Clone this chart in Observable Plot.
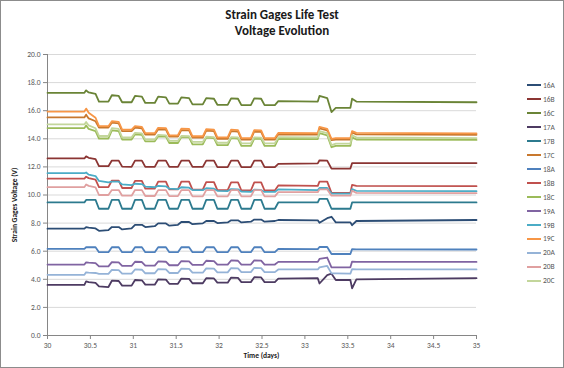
<!DOCTYPE html>
<html>
<head>
<meta charset="utf-8">
<script src="https://cdn.jsdelivr.net/npm/d3@7"></script>
<script src="https://cdn.jsdelivr.net/npm/@observablehq/plot@0.6"></script>
<style>
  html, body { margin: 0; padding: 0; background: #fff; }
  #wrap { position: relative; width: 564px; height: 368px; font-family: Carlito, Lato, "Open Sans", sans-serif; overflow: hidden; }
  #wrap svg { position: absolute; left: 0; top: 0; }
  .border { position: absolute; left: 0; top: 0; width: 564px; height: 368px; box-sizing: border-box; border: 1px solid #8c8c8c; pointer-events: none; }
  .title { position: absolute; left: 0; width: 564px; text-align: center; font-weight: bold; font-size: 13px; line-height: 16px; top: 7px; color: #1a1a1a; }
  .xlab { position: absolute; left: 47px; width: 429px; text-align: center; top: 351px; font-weight: bold; font-size: 7.5px; color: #1a1a1a; }
  .ylab { position: absolute; left: 14px; top: 205px; transform: translate(-50%, -50%) rotate(-90deg); white-space: nowrap; font-weight: bold; font-size: 7.5px; color: #1a1a1a; }
  .leg { position: absolute; left: 527px; height: 10px; font-size: 7.5px; color: #595959; line-height: 10px; white-space: nowrap; }
  .leg span.sw { display: inline-block; width: 14px; height: 2px; vertical-align: middle; margin-right: 2px; position: relative; top: -1px; }
</style>
</head>
<body>
<div id="wrap"></div>
<script>
const titleLines = ["Strain Gages Life Test", "Voltage Evolution"];
const xTitle = "Time (days)";
const yTitle = "Strain Gages Voltage (V)";
const xTicks = [30, 30.5, 31, 31.5, 32, 32.5, 33, 33.5, 34, 34.5, 35];
const yTicks = [0, 2, 4, 6, 8, 10, 12, 14, 16, 18, 20];
const seriesNames = ["16A","16B","16C","17A","17B","17C","18A","18B","18C","19A","19B","19C","20A","20B","20C"];
const seriesColors = ["#2C4D75","#8B3533","#6A8436","#4D3B62","#2C7A8E","#C8782E","#4F81BD","#C0504D","#9BBB59","#8064A2","#4BACC6","#F79646","#95B3D7","#E0A0A0","#C3D69B"];

// time breakpoints (days)
const times = [
  30.00, 30.43, 30.45, 30.48, 30.56, 30.60,
  30.71, 30.75, 30.83, 30.87,
  30.98, 31.02, 31.10, 31.14,
  31.25, 31.29, 31.38, 31.42,
  31.52, 31.56, 31.65, 31.69,
  31.81, 31.85, 31.94, 31.98,
  32.10, 32.14, 32.22, 32.26,
  32.37, 32.41, 32.49, 32.53,
  32.65, 32.69,
  33.15, 33.17, 33.26, 33.31, 33.36, 33.53, 33.55, 33.60, 35.00
];

const s16A = [7.6, 7.6, 7.72, 7.68, 7.62, 7.45,
  7.5, 7.72, 7.72, 7.55,
  7.62, 7.88, 7.88, 7.72,
  7.78, 7.98, 7.98, 7.82,
  7.88, 8.08, 8.08, 7.92,
  7.98, 8.15, 8.15, 8.0,
  8.05, 8.2, 8.2, 8.05,
  8.1, 8.25, 8.25, 8.1,
  8.15, 8.22,
  8.2, 8.02, 8.35, 8.45, 8.05, 8.05, 7.85, 8.15, 8.22];
const s16B = [12.6, 12.6, 12.75, 12.65, 12.55, 12.05,
  12.05, 12.45, 12.45, 12.02,
  12.0, 12.45, 12.45, 12.0,
  12.0, 12.45, 12.45, 12.0,
  12.0, 12.45, 12.45, 12.0,
  12.0, 12.45, 12.45, 11.98,
  11.98, 12.45, 12.45, 11.98,
  11.98, 12.45, 12.45, 11.98,
  11.98, 12.22,
  12.25, 12.47, 12.45, 11.88, 11.88, 11.88, 12.27, 12.27, 12.27];
const s16C = [17.27, 17.27, 17.45, 17.3, 17.2, 16.65,
  16.65, 17.1, 17.05, 16.6,
  16.6, 17.05, 17.0, 16.55,
  16.55, 17.0, 16.95, 16.5,
  16.5, 16.95, 16.9, 16.45,
  16.45, 16.9, 16.85, 16.42,
  16.42, 16.88, 16.85, 16.4,
  16.4, 16.88, 16.85, 16.4,
  16.4, 16.68,
  16.65, 17.05, 16.9, 15.9, 16.2, 16.2, 16.85, 16.65, 16.6];
const s17A = [3.6, 3.6, 3.85, 3.8, 3.75, 3.5,
  3.45, 3.9, 3.88, 3.55,
  3.55, 3.95, 3.93, 3.62,
  3.62, 4.0, 3.98, 3.68,
  3.68, 4.05, 4.03, 3.72,
  3.72, 4.08, 4.06, 3.76,
  3.76, 4.12, 4.1, 3.8,
  3.8, 4.15, 4.13, 3.8,
  3.8, 4.05,
  4.08, 3.7, 4.3, 4.4, 3.95, 3.95, 3.35, 4.0, 4.08];
const s17B = [9.47, 9.47, 9.65, 9.65, 9.65, 9.02,
  9.02, 9.65, 9.65, 9.02,
  9.02, 9.65, 9.65, 9.02,
  9.02, 9.65, 9.65, 9.02,
  9.02, 9.65, 9.65, 9.02,
  9.02, 9.65, 9.65, 9.02,
  9.02, 9.65, 9.65, 9.02,
  9.02, 9.65, 9.65, 9.02,
  9.02, 9.47,
  9.47, 9.73, 9.73, 9.02, 9.02, 9.02, 9.47, 9.47, 9.47];
const s17C = [15.52, 15.52, 15.72, 15.45, 15.25, 14.8,
  14.8, 15.15, 15.1, 14.55,
  14.55, 14.8, 14.75, 14.3,
  14.3, 14.68, 14.65, 14.15,
  14.15, 14.62, 14.6, 14.08,
  14.08, 14.58, 14.55, 14.0,
  14.0, 14.55, 14.52, 13.95,
  13.95, 14.52, 14.5, 13.95,
  13.95, 14.32,
  14.3, 14.75, 14.6, 13.9, 13.95, 13.95, 14.45, 14.32, 14.28];
const s18A = [6.17, 6.17, 6.28, 6.28, 6.28, 5.93,
  5.93, 6.28, 6.28, 5.93,
  5.93, 6.28, 6.28, 5.93,
  5.93, 6.28, 6.28, 5.93,
  5.93, 6.28, 6.28, 5.93,
  5.93, 6.28, 6.28, 5.93,
  5.93, 6.28, 6.28, 5.93,
  5.93, 6.28, 6.28, 5.93,
  5.93, 6.17,
  6.15, 6.3, 6.3, 5.8, 5.8, 5.8, 6.15, 6.13, 6.12];
const s18B = [11.17, 11.17, 11.3, 11.2, 11.1, 10.56,
  10.56, 11.03, 11.03, 10.5,
  10.5, 11.0, 11.0, 10.45,
  10.45, 10.95, 10.95, 10.4,
  10.4, 10.95, 10.95, 10.38,
  10.38, 10.92, 10.92, 10.35,
  10.35, 10.9, 10.9, 10.32,
  10.32, 10.9, 10.9, 10.32,
  10.32, 10.68,
  10.65, 10.95, 10.95, 10.15, 10.15, 10.15, 10.72, 10.65, 10.63];
const s18C = [14.76, 14.76, 14.95, 14.7, 14.55, 14.02,
  14.02, 14.6, 14.55, 13.95,
  13.95, 14.32, 14.28, 13.82,
  13.82, 14.18, 14.15, 13.7,
  13.7, 14.12, 14.1, 13.6,
  13.6, 14.08, 14.05, 13.55,
  13.55, 14.05, 14.02, 13.5,
  13.5, 14.02, 14.0, 13.5,
  13.5, 14.0,
  13.98, 14.4, 14.25, 13.4, 13.5, 13.5, 14.1, 13.95, 13.92];
const s19A = [5.05, 5.05, 5.2, 5.18, 5.15, 4.92,
  4.92, 5.22, 5.2, 4.95,
  4.95, 5.25, 5.23, 4.97,
  4.97, 5.27, 5.25, 5.0,
  5.0, 5.3, 5.28, 5.02,
  5.02, 5.32, 5.3, 5.04,
  5.04, 5.34, 5.32, 5.05,
  5.05, 5.35, 5.33, 5.05,
  5.05, 5.24,
  5.24, 5.45, 5.55, 4.85, 4.85, 4.85, 5.26, 5.24, 5.24];
const s19B = [11.55, 11.55, 11.6, 11.45, 11.35, 11.0,
  10.9, 10.95, 10.95, 10.75,
  10.7, 10.8, 10.78, 10.6,
  10.55, 10.65, 10.62, 10.45,
  10.42, 10.55, 10.52, 10.35,
  10.35, 10.48, 10.45, 10.3,
  10.28, 10.42, 10.4, 10.25,
  10.22, 10.38, 10.36, 10.22,
  10.22, 10.4,
  10.35, 10.5, 10.5, 10.1, 10.1, 10.1, 10.42, 10.3, 10.27];
const s19C = [15.94, 15.94, 16.15, 15.85, 15.5, 14.9,
  14.9, 15.25, 15.2, 14.65,
  14.65, 14.9, 14.85, 14.4,
  14.4, 14.78, 14.75, 14.25,
  14.25, 14.72, 14.7, 14.18,
  14.18, 14.68, 14.65, 14.1,
  14.1, 14.65, 14.62, 14.05,
  14.05, 14.62, 14.6, 14.05,
  14.05, 14.42,
  14.4, 14.85, 14.7, 14.0, 14.05, 14.05, 14.55, 14.42, 14.38];
const s20A = [4.32, 4.32, 4.5, 4.48, 4.45, 4.39,
  4.39, 4.67, 4.65, 4.4,
  4.4, 4.7, 4.68, 4.43,
  4.43, 4.73, 4.71, 4.45,
  4.45, 4.76, 4.74, 4.47,
  4.47, 4.78, 4.76, 4.49,
  4.49, 4.8, 4.78, 4.51,
  4.51, 4.82, 4.8, 4.51,
  4.51, 4.7,
  4.7, 4.85, 4.95, 4.42, 4.42, 4.4, 4.72, 4.7, 4.7];
const s20B = [10.56, 10.56, 10.75, 10.65, 10.55, 10.0,
  10.0, 10.35, 10.35, 9.95,
  9.95, 10.35, 10.35, 9.93,
  9.93, 10.35, 10.35, 9.92,
  9.92, 10.35, 10.35, 9.9,
  9.9, 10.35, 10.35, 9.9,
  9.9, 10.35, 10.35, 9.9,
  9.9, 10.35, 10.35, 9.9,
  9.9, 10.2,
  10.2, 10.4, 10.4, 9.95, 9.95, 9.95, 10.3, 10.15, 10.13];
const s20C = [15.02, 15.02, 15.2, 14.95, 14.75, 14.2,
  14.2, 14.75, 14.7, 14.1,
  14.1, 14.42, 14.38, 13.95,
  13.95, 14.28, 14.25, 13.85,
  13.85, 14.2, 14.18, 13.78,
  13.78, 14.15, 14.12, 13.72,
  13.72, 14.12, 14.1, 13.68,
  13.68, 14.1, 14.08, 13.68,
  13.68, 14.12,
  14.1, 14.55, 14.4, 13.55, 13.65, 13.65, 14.25, 14.1, 14.05];

const seriesValues = [s16A, s16B, s16C, s17A, s17B, s17C, s18A, s18B, s18C, s19A, s19B, s19C, s20A, s20B, s20C];

const rows = [];
seriesNames.forEach((name, i) => {
  seriesValues[i].forEach((v, j) => rows.push({series: name, t: times[j], v}));
});

const chart = Plot.plot({
  width: 564,
  height: 368,
  marginLeft: 47,
  marginRight: 88,
  marginTop: 54,
  marginBottom: 33,
  style: {fontFamily: "Carlito, Lato, 'Open Sans', sans-serif", fontSize: "7.5px", background: "transparent", overflow: "visible"},
  x: {domain: [30, 35]},
  y: {domain: [0, 20]},
  color: {domain: seriesNames, range: seriesColors},
  marks: [
    Plot.gridY(yTicks.filter(d => d > 0), {stroke: "#d9d9d9", strokeOpacity: 1}),
    Plot.ruleX([30], {stroke: "#868686"}),
    Plot.ruleY([0], {stroke: "#868686"}),
    Plot.axisY(yTicks, {tickSize: 4, tickPadding: 3, stroke: "#868686", fill: "#595959", tickFormat: d => d.toFixed(1), label: null}),
    Plot.axisX(xTicks, {tickSize: 4, tickPadding: 3, stroke: "#868686", fill: "#595959", tickFormat: d => String(d), label: null}),
    Plot.line(rows, {x: "t", y: "v", z: "series", stroke: "series", strokeWidth: 1.8, strokeLinejoin: "round", strokeLinecap: "round"})
  ]
});

const wrap = document.getElementById("wrap");
wrap.appendChild(chart);

const t = document.createElement("div");
t.className = "title";
t.innerHTML = titleLines.map(s => `<div>${s}</div>`).join("");
wrap.appendChild(t);

const xl = document.createElement("div");
xl.className = "xlab"; xl.textContent = xTitle; wrap.appendChild(xl);
const yl = document.createElement("div");
yl.className = "ylab"; yl.textContent = yTitle; wrap.appendChild(yl);

seriesNames.forEach((name, i) => {
  const d = document.createElement("div");
  d.className = "leg";
  d.style.top = (86 + i * 13.95 - 5) + "px";
  d.innerHTML = `<span class="sw" style="background:${seriesColors[i]}"></span>${name}`;
  wrap.appendChild(d);
});

const b = document.createElement("div");
b.className = "border"; wrap.appendChild(b);
</script>
</body>
</html>
